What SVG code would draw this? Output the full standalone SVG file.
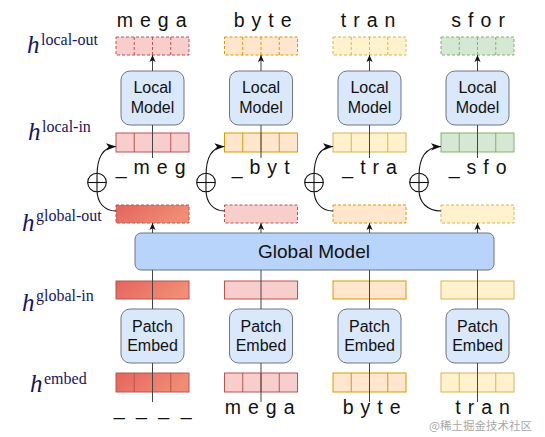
<svg xmlns="http://www.w3.org/2000/svg" width="545" height="437" viewBox="0 0 545 437">
<defs>
<linearGradient id="rg" x1="0" y1="0" x2="1" y2="0.3">
<stop offset="0" stop-color="#e5645d"/>
<stop offset="1" stop-color="#f08d74"/>
</linearGradient>
<marker id="ah" viewBox="0 0 8 8" refX="8" refY="4" markerWidth="7" markerHeight="7" markerUnits="userSpaceOnUse" orient="auto">
<path d="M0,0.5 L8,4 L0,7.5 L2,4 z" fill="#111"/>
</marker>
<marker id="ah2" viewBox="0 0 10 8" refX="10" refY="4" markerWidth="10" markerHeight="8" markerUnits="userSpaceOnUse" orient="auto">
<path d="M0,0.3 L10,4 L0,7.7 L2.5,4 z" fill="#111"/>
</marker>
</defs>
<style>
.box{fill:#dae8fc;stroke:#6e7580;stroke-width:1}
.gbox{fill:#b9d4fa;stroke:#6e7580;stroke-width:1}
.lbl{font-family:"Liberation Sans",Arial,sans-serif;font-size:16px;fill:#111;text-anchor:middle}
.glbl{font-family:"Liberation Sans",Arial,sans-serif;font-size:19px;fill:#111;text-anchor:middle}
.tok{font-family:"Liberation Sans",Arial,sans-serif;font-size:19.5px;letter-spacing:0.8px;fill:#111;text-anchor:middle}
.conn{stroke:#444;stroke-width:1;fill:none}
.curve{stroke:#111;stroke-width:1.1;fill:none}
.hh{font-family:"Liberation Serif","Times New Roman",serif;fill:#16165e}
.hi{font-style:italic;font-size:25px}
.hs{font-size:16px}
.red{fill:#f8cecc;stroke:#b85450}
.org{fill:#ffe6cc;stroke:#d79b00}
.yel{fill:#fff2cc;stroke:#d6b656}
.grn{fill:#d5e8d4;stroke:#82b366}
.redg{fill:url(#rg);stroke:#b85450}
.dash{stroke-dasharray:3 2}
.wm{font-family:"Noto Sans CJK SC","Noto Sans",sans-serif;font-size:11.5px;fill:#8a8a8a;opacity:0.75;stroke:#fff;stroke-width:2px;paint-order:stroke}
</style>
<rect width="545" height="437" fill="#fff"/>

<!-- left labels -->
<g id="labels">
<text class="hh" x="27" y="53"><tspan class="hi">h</tspan><tspan class="hs" x="41" y="45">local-out</tspan></text>
<text class="hh" x="28" y="140"><tspan class="hi">h</tspan><tspan class="hs" x="42" y="132">local-in</tspan></text>
<text class="hh" x="22" y="231"><tspan class="hi">h</tspan><tspan class="hs" x="36" y="221">global-out</tspan></text>
<text class="hh" x="22" y="311"><tspan class="hi">h</tspan><tspan class="hs" x="36" y="301">global-in</tspan></text>
<text class="hh" x="30" y="392"><tspan class="hi">h</tspan><tspan class="hs" x="44" y="384">embed</tspan></text>
</g>

<!-- top tokens -->
<g id="top-tokens">
<text class="tok" x="152" y="27">m e g a</text>
<text class="tok" x="263" y="27">b y t e</text>
<text class="tok" x="368.5" y="27">t r a n</text>
<text class="tok" x="478.5" y="27">s f o r</text>
</g>

<!-- local-out -->
<g id="lout-0"><rect class="red dash" x="116" y="37" width="73" height="18"/><path class="red dash" d="M134.25,37V55M152.5,37V55M170.75,37V55"/></g>
<g id="lout-1"><rect class="org dash" x="224.5" y="37" width="73" height="18"/><path class="org dash" d="M242.75,37V55M261,37V55M279.25,37V55"/></g>
<g id="lout-2"><rect class="yel dash" x="333" y="37" width="73" height="18"/><path class="yel dash" d="M351.25,37V55M369.5,37V55M387.75,37V55"/></g>
<g id="lout-3"><rect class="grn dash" x="441" y="37" width="73" height="18"/><path class="grn dash" d="M459.25,37V55M477.5,37V55M495.75,37V55"/></g>

<!-- local models -->
<g id="lm-0"><rect class="box" x="121" y="71" width="63" height="54" rx="9"/><text class="lbl" x="152.5" y="93">Local</text><text class="lbl" x="152.5" y="113">Model</text></g>
<g id="lm-1"><rect class="box" x="229.5" y="71" width="63" height="54" rx="9"/><text class="lbl" x="261" y="93">Local</text><text class="lbl" x="261" y="113">Model</text></g>
<g id="lm-2"><rect class="box" x="338" y="71" width="63" height="54" rx="9"/><text class="lbl" x="369.5" y="93">Local</text><text class="lbl" x="369.5" y="113">Model</text></g>
<g id="lm-3"><rect class="box" x="446" y="71" width="63" height="54" rx="9"/><text class="lbl" x="477.5" y="93">Local</text><text class="lbl" x="477.5" y="113">Model</text></g>

<!-- local-in -->
<g id="lin-0"><rect class="red" x="116" y="133" width="73" height="19"/><path class="red" d="M134.25,133V152M152.5,133V152M170.75,133V152"/></g>
<g id="lin-1"><rect class="org" x="224.5" y="133" width="73" height="19"/><path class="org" d="M242.75,133V152M261,133V152M279.25,133V152"/></g>
<g id="lin-2"><rect class="yel" x="333" y="133" width="73" height="19"/><path class="yel" d="M351.25,133V152M369.5,133V152M387.75,133V152"/></g>
<g id="lin-3"><rect class="grn" x="441" y="133" width="73" height="19"/><path class="grn" d="M459.25,133V152M477.5,133V152M495.75,133V152"/></g>

<!-- shifted tokens -->
<g id="mid-tokens">
<text class="tok" x="151" y="174">_ m e g</text>
<text class="tok" x="261" y="174">_ b y t</text>
<text class="tok" x="370" y="174">_ t r a</text>
<text class="tok" x="478" y="174">_ s f o</text>
</g>

<!-- global-out -->
<g id="gout-0"><rect class="redg dash" x="116" y="205" width="73" height="18"/></g>
<g id="gout-1"><rect class="red dash" x="224.5" y="205" width="73" height="18"/></g>
<g id="gout-2"><rect class="org dash" x="333" y="205" width="73" height="18"/></g>
<g id="gout-3"><rect class="yel dash" x="441" y="205" width="73" height="18"/></g>

<!-- global model -->
<g id="global-model"><rect class="gbox" x="135" y="233" width="359" height="37" rx="6"/><text class="glbl" x="314" y="258">Global Model</text></g>

<!-- global-in -->
<g id="gin-0"><rect class="redg" x="116" y="281" width="73" height="18"/></g>
<g id="gin-1"><rect class="red" x="224.5" y="281" width="73" height="18"/></g>
<g id="gin-2"><rect class="org" x="333" y="281" width="73" height="18"/></g>
<g id="gin-3"><rect class="yel" x="441" y="281" width="73" height="18"/></g>

<!-- patch embed -->
<g id="pe-0"><rect class="box" x="121" y="309" width="63" height="54" rx="9"/><text class="lbl" x="152.5" y="332">Patch</text><text class="lbl" x="152.5" y="351">Embed</text></g>
<g id="pe-1"><rect class="box" x="229.5" y="309" width="63" height="54" rx="9"/><text class="lbl" x="261" y="332">Patch</text><text class="lbl" x="261" y="351">Embed</text></g>
<g id="pe-2"><rect class="box" x="338" y="309" width="63" height="54" rx="9"/><text class="lbl" x="369.5" y="332">Patch</text><text class="lbl" x="369.5" y="351">Embed</text></g>
<g id="pe-3"><rect class="box" x="446" y="309" width="63" height="54" rx="9"/><text class="lbl" x="477.5" y="332">Patch</text><text class="lbl" x="477.5" y="351">Embed</text></g>

<!-- embed -->
<g id="emb-0"><rect class="redg" x="116" y="373" width="73" height="19"/><path class="redg" d="M134.25,373V392M152.5,373V392M170.75,373V392"/></g>
<g id="emb-1"><rect class="red" x="224.5" y="373" width="73" height="19"/><path class="red" d="M242.75,373V392M261,373V392M279.25,373V392"/></g>
<g id="emb-2"><rect class="org" x="333" y="373" width="73" height="19"/><path class="org" d="M351.25,373V392M369.5,373V392M387.75,373V392"/></g>
<g id="emb-3"><rect class="yel" x="441" y="373" width="73" height="19"/><path class="yel" d="M459.25,373V392M477.5,373V392M495.75,373V392"/></g>

<!-- bottom tokens -->
<g id="bottom-tokens">
<text class="tok" x="153" y="415" style="word-spacing:4.5px">_ _ _ _</text>
<text class="tok" x="260" y="414">m e g a</text>
<text class="tok" x="372" y="414">b y t e</text>
<text class="tok" x="483" y="414">t r a n</text>
</g>

<!-- connectors -->
<g id="connectors">
<path class="conn" d="M152.5,402V363M152.5,309V270M152.5,158V125"/>
<path class="conn" d="M261,402V363M261,309V270M261,158V125"/>
<path class="conn" d="M369.5,402V363M369.5,309V270M369.5,158V125"/>
<path class="conn" d="M477.5,402V363M477.5,309V270M477.5,158V125"/>
<path class="conn" d="M152.5,233V223" marker-end="url(#ah)"/>
<path class="conn" d="M261,233V223" marker-end="url(#ah)"/>
<path class="conn" d="M369.5,233V223" marker-end="url(#ah)"/>
<path class="conn" d="M477.5,233V223" marker-end="url(#ah)"/>
<path class="conn" d="M152.5,71V55" marker-end="url(#ah)"/>
<path class="conn" d="M261,71V55" marker-end="url(#ah)"/>
<path class="conn" d="M369.5,71V55" marker-end="url(#ah)"/>
<path class="conn" d="M477.5,71V55" marker-end="url(#ah)"/>
<path class="curve" d="M116,211C104,211 97,202 97,190V176C97,160 101,147 116,146.5" marker-end="url(#ah2)"/>
<path class="curve" d="M224.5,211C213,211 206,202 206,190V176C206,160 210,147 224.5,146.5" marker-end="url(#ah2)"/>
<path class="curve" d="M333,211C321,211 314,202 314,190V176C314,160 318,147 333,146.5" marker-end="url(#ah2)"/>
<path class="curve" d="M441,211C427,211 419,202 419,190V176C419,160 424,147 441,146.5" marker-end="url(#ah2)"/>
</g>

<!-- plus operators -->
<g id="plus-0"><circle class="curve" cx="97" cy="182.5" r="9.3"/><path class="curve" d="M87.7,182.5H106.3"/></g>
<g id="plus-1"><circle class="curve" cx="206" cy="182.5" r="9.3"/><path class="curve" d="M196.7,182.5H215.3"/></g>
<g id="plus-2"><circle class="curve" cx="314" cy="182.5" r="9.3"/><path class="curve" d="M304.7,182.5H323.3"/></g>
<g id="plus-3"><circle class="curve" cx="419" cy="182.5" r="9.3"/><path class="curve" d="M409.7,182.5H428.3"/></g>

<text class="wm" x="429" y="430">@稀土掘金技术社区</text>
</svg>
